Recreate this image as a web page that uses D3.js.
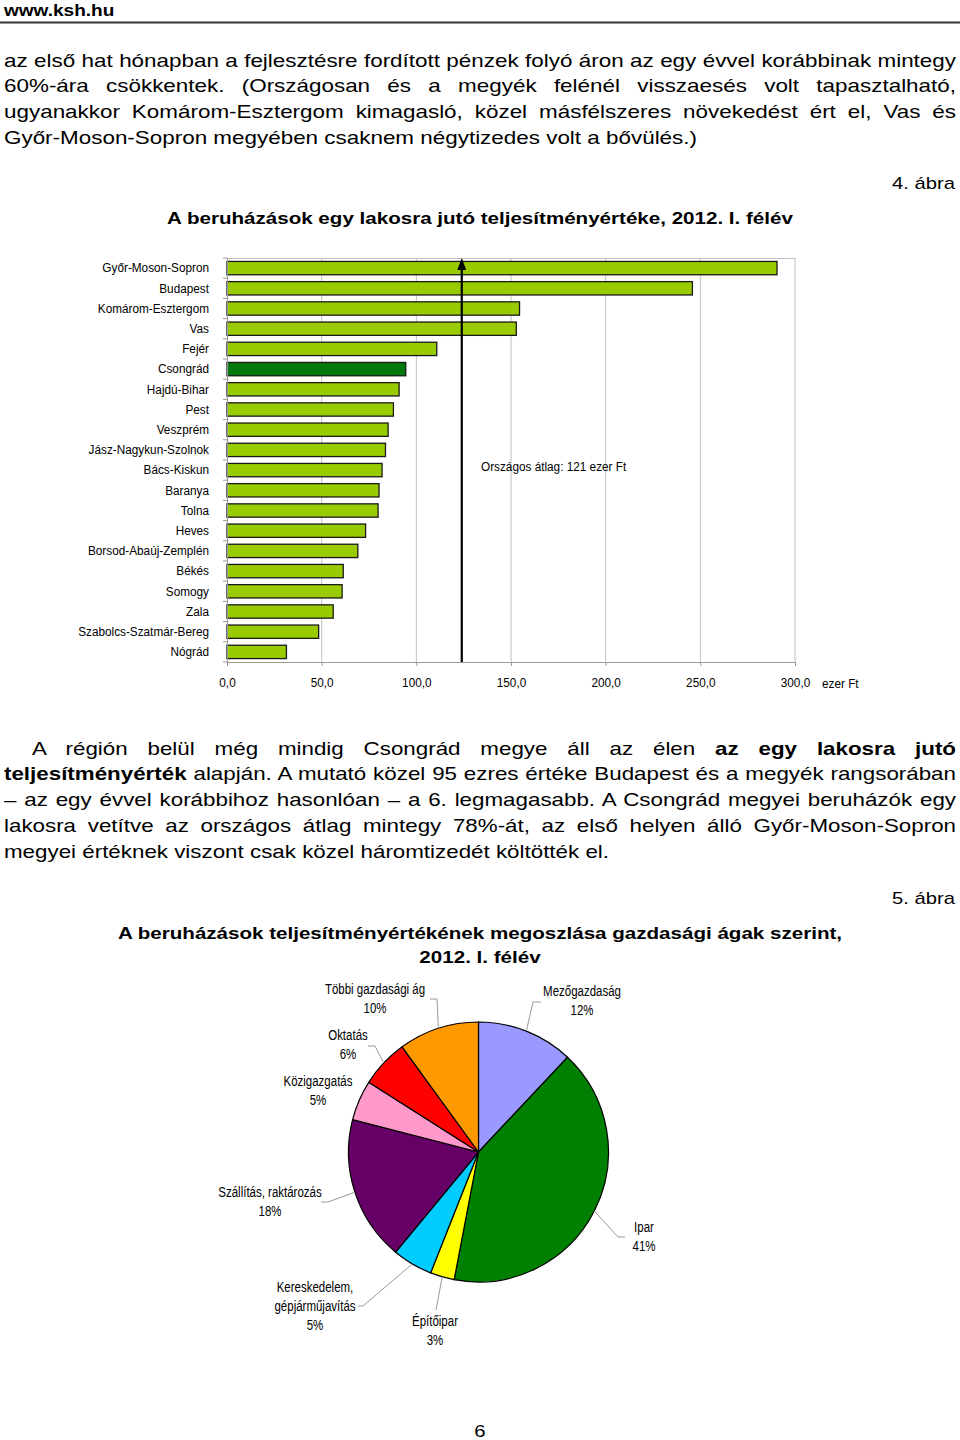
<!DOCTYPE html>
<html><head><meta charset="utf-8">
<script src="https://cdn.jsdelivr.net/npm/d3@7/dist/d3.min.js"></script>
<style>
html,body{margin:0;padding:0;background:#fff;}
body{width:960px;height:1440px;position:relative;overflow:hidden;font-family:"Liberation Sans",Arial,sans-serif;color:#000;}
svg{position:absolute;left:0;top:0;}
.ln{position:absolute;white-space:nowrap;line-height:26px;transform-origin:0 0;}
</style></head><body>
<svg id="svg" width="960" height="1440"></svg>
<div id="txt"></div>
<script>
// ---------- DATA ----------
const counties = ["Győr-Moson-Sopron","Budapest","Komárom-Esztergom","Vas","Fejér","Csongrád","Hajdú-Bihar","Pest","Veszprém","Jász-Nagykun-Szolnok","Bács-Kiskun","Baranya","Tolna","Heves","Borsod-Abaúj-Zemplén","Békés","Somogy","Zala","Szabolcs-Szatmár-Bereg","Nógrád"];
const perCapita = [290.5,245.8,154.5,152.8,110.8,94.4,90.9,87.9,85.1,83.7,81.9,80.3,79.8,73.2,69.1,61.4,60.8,56.1,48.4,31.4];
const highlighted = ["Csongrád"];
const xTicks = [0,50,100,150,200,250,300];
const avgLineValue = 124;
const avgLabel = "Országos átlag: 121 ezer Ft";
const unitLabel = "ezer Ft";

const sectors = ["Mezőgazdaság","Ipar","Építőipar","Kereskedelem, gépjárműjavítás","Szállítás, raktározás","Közigazgatás","Oktatás","Többi gazdasági ág"];
const shares = [12,41,3,5,18,5,6,10];
const sectorColors = ["#9999FF","#008000","#FFFF00","#00CCFF","#660066","#FF99CC","#FF0000","#FF9900"];
const sectorLabelLines = [["Mezőgazdaság"],["Ipar"],["Építőipar"],["Kereskedelem,","gépjárműjavítás"],["Szállítás, raktározás"],["Közigazgatás"],["Oktatás"],["Többi gazdasági ág"]];

// ---------- HELPERS ----------
const svg = d3.select("#svg");
const SX = 1.19;            // horizontal stretch of page text
function stretch(sel, sx){
  sel.each(function(){
    const t = d3.select(this);
    const x = +(t.attr("x")||0);
    t.attr("transform",`translate(${x},0) scale(${sx},1) translate(${-x},0)`);
  });
  return sel;
}
function pageText(x,y,str,size,opts={}){
  const t = svg.append("text").attr("x",x).attr("y",y).attr("font-size",size).text(str);
  if(opts.anchor) t.attr("text-anchor",opts.anchor);
  if(opts.bold) t.attr("font-weight","bold");
  stretch(t, opts.sx||SX);
  return t;
}

// header
pageText(4,16,"www.ksh.hu",16,{bold:true});
svg.append("line").attr("x1",0).attr("x2",960).attr("y1",22.5).attr("y2",22.5).attr("stroke","#333").attr("stroke-width",2);

// paragraphs: each line justified to the full text width via word spacing
const txt = d3.select("#txt");
function paragraph(lines, top, step, size, lastTarget){
  const probe = txt.append("div").attr("class","ln").style("font-size",size+"px").style("left","0px").style("top","-200px").html(lines[lines.length-1][0]);
  const sx = lastTarget/probe.node().getBoundingClientRect().width;
  probe.remove();
  lines.forEach((l,i)=>{
    const [html, just, indent] = l;
    const d = txt.append("div").attr("class","ln").style("font-size",size+"px")
      .style("left",(4+indent)+"px").style("top",(top+i*step)+"px").html(html);
    if(just){
      const w = d.node().getBoundingClientRect().width;
      const target = (952-indent)/sx;
      const n = (d.node().textContent.match(/ /g)||[]).length;
      d.style("word-spacing",((target-w)/n)+"px");
    }
    d.style("transform",`scaleX(${sx})`);
  });
}
paragraph([
 ["az első hat hónapban a fejlesztésre fordított pénzek folyó áron az egy évvel korábbinak mintegy",true,0],
 ["60%-ára csökkentek. (Országosan és a megyék felénél visszaesés volt tapasztalható,",true,0],
 ["ugyanakkor Komárom-Esztergom kimagasló, közel másfélszeres növekedést ért el, Vas és",true,0],
 ["Győr-Moson-Sopron megyében csaknem négytizedes volt a bővülés.)",false,0]
], 47.5, 25.7, 18.2, 693);
paragraph([
 ['A régión belül még mindig Csongrád megye áll az élen <b>az egy lakosra jutó</b>',true,28],
 ['<b>teljesítményérték</b> alapján. A mutató közel 95 ezres értéke Budapest és a megyék rangsorában',true,0],
 ['– az egy évvel korábbihoz hasonlóan – a 6. legmagasabb. A Csongrád megyei beruházók egy',true,0],
 ['lakosra vetítve az országos átlag mintegy 78%-át, az első helyen álló Győr-Moson-Sopron',true,0],
 ['megyei értéknek viszont csak közel háromtizedét költötték el.',false,0]
], 735.5, 25.8, 18.2, 605);

// ---------- BAR CHART ----------
pageText(955,189,"4. ábra",17,{anchor:"end"});
pageText(480,224,"A beruházások egy lakosra jutó teljesítményértéke, 2012. I. félév",17.3,{anchor:"middle",bold:true});

const CF = 13.5, CSX = 0.873;
const x = d3.scaleLinear().domain([0,300]).range([227,795]);
const y = d3.scaleBand().domain(counties).range([258,662]).paddingInner(0.34).paddingOuter(0.17);

const g = svg.append("g");
g.selectAll("line.grid").data(xTicks.filter(d=>d>0)).join("line")
  .attr("x1",d=>x(d)).attr("x2",d=>x(d)).attr("y1",258).attr("y2",662)
  .attr("stroke","#c0c0c0").attr("stroke-width",1);
g.append("line").attr("x1",x(0)).attr("x2",x(300)).attr("y1",258.5).attr("y2",258.5).attr("stroke","#c0c0c0");

g.selectAll("rect.bar").data(counties).join("rect")
  .attr("x",x(0)).attr("y",d=>y(d)).attr("height",y.bandwidth())
  .attr("width",(d,i)=>x(perCapita[i])-x(0))
  .attr("fill",d=>highlighted.includes(d)?"#007A0C":"#99CC00")
  .attr("stroke","#1a1a1a").attr("stroke-width",1.3);

const xa = g.append("g").attr("transform","translate(0,662)")
  .call(d3.axisBottom(x).tickValues(xTicks).tickSize(4).tickPadding(11)
    .tickFormat(d=>d3.format(".1f")(d).replace(".",",")));
xa.select(".domain").attr("stroke","#999");
xa.selectAll(".tick line").attr("stroke","#999");
stretch(xa.selectAll("text").attr("font-family",null).attr("font-size",CF).attr("fill","#000"), CSX);
stretch(g.append("text").attr("x",822).attr("y",688).attr("font-size",CF).text(unitLabel), CSX);

const ya = g.append("g").attr("transform","translate(227,0)")
  .call(d3.axisLeft(y).tickSize(0).tickPadding(18));
ya.select(".domain").attr("stroke","#999");
stretch(ya.selectAll("text").attr("font-family",null).attr("font-size",CF).attr("fill","#000"), CSX);
const bounds = counties.map(c=>y(c)-y.step()*y.paddingInner()/2).concat([662]);
g.selectAll("line.bt").data(bounds).join("line")
  .attr("x1",223).attr("x2",227).attr("y1",d=>d).attr("y2",d=>d).attr("stroke","#999");

const ax = x(avgLineValue);
g.append("line").attr("x1",ax).attr("x2",ax).attr("y1",662).attr("y2",268)
  .attr("stroke","#000").attr("stroke-width",2.2);
g.append("path").attr("d",`M${ax},258 L${ax-4.5},270 L${ax+4.5},270 Z`).attr("fill","#000");
stretch(g.append("text").attr("x",481).attr("y",471).attr("font-size",CF).text(avgLabel), CSX);

// ---------- PIE CHART ----------
pageText(955,904,"5. ábra",17,{anchor:"end"});
pageText(480,939,"A beruházások teljesítményértékének megoszlása gazdasági ágak szerint,",17.3,{anchor:"middle",bold:true});
pageText(480,963,"2012. I. félév",17.3,{anchor:"middle",bold:true});

const cx = 478.5, cy = 1152, R = 130;
const pie = d3.pie().sort(null).value(d=>d)(shares);
const arc = d3.arc().innerRadius(0).outerRadius(R);
const pg = svg.append("g").attr("transform",`translate(${cx},${cy})`);
pg.selectAll("path").data(pie).join("path").attr("d",arc)
  .attr("fill",(d,i)=>sectorColors[i]).attr("stroke","#000").attr("stroke-width",1.2);

const PF = 14, PSX = 0.82;
const labelLayout = [
  {tx:582, ty:996, lead:[[541,1002],[533,1002]]},
  {tx:644, ty:1232, lead:[[625,1237],[618,1237]]},
  {tx:435, ty:1326, lead:[[436,1310]]},
  {tx:315, ty:1292, lead:[[358,1306],[363,1306]]},
  {tx:270, ty:1197, lead:[[321,1202],[328,1202]]},
  {tx:318, ty:1086, lead:null},
  {tx:348, ty:1040, lead:[[368,1046],[375,1046]]},
  {tx:375, ty:994, lead:[[430,999],[437,999]]}
];
pie.forEach((p,i)=>{
  const L = labelLayout[i];
  const mid = (p.startAngle+p.endAngle)/2;
  const ex = cx + R*Math.sin(mid), ey = cy - R*Math.cos(mid);
  if (L.lead){
    const pts = L.lead.concat([[ex,ey]]);
    svg.append("path").attr("d","M"+pts.map(q=>q.join(",")).join("L"))
      .attr("fill","none").attr("stroke","#999").attr("stroke-width",1);
  }
  const lines = sectorLabelLines[i].concat([shares[i]+"%"]);
  const t = svg.append("text").attr("x",L.tx).attr("font-size",PF).attr("text-anchor","middle");
  lines.forEach((s,k)=>t.append("tspan").attr("x",L.tx).attr("y",L.ty+k*19).text(s));
  stretch(t, PSX);
});

pageText(480,1437,"6",17,{anchor:"middle"});
</script>
</body></html>
